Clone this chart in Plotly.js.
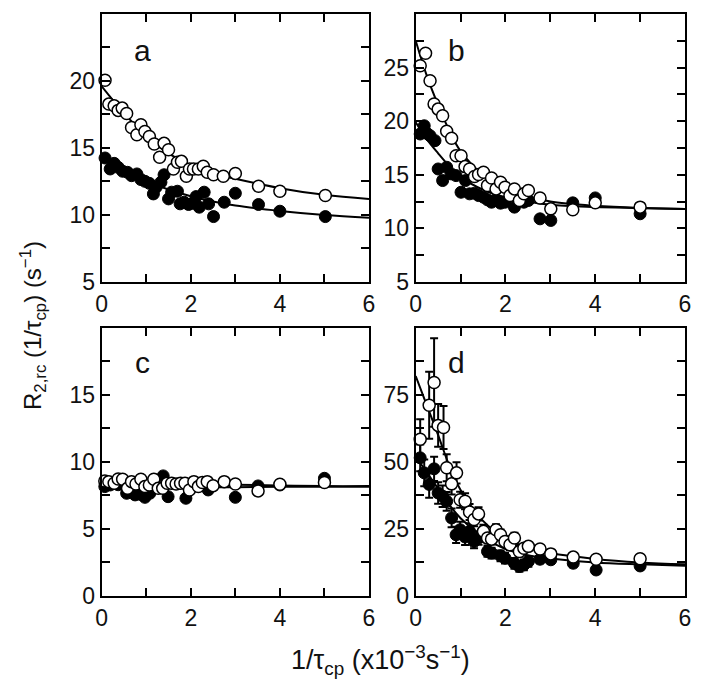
<!DOCTYPE html>
<html>
<head>
<meta charset="utf-8">
<script src="https://cdn.plot.ly/plotly-3.0.1.min.js"></script>
<style>html,body{margin:0;padding:0;background:#fff;}#plot{width:704px;height:697px;}</style>
</head>
<body>
<div id="plot"></div>
<script>
// ---------- Panel a ----------
const aOpenX = [0.075,0.16,0.28,0.37,0.46,0.56,0.67,0.79,0.88,0.97,1.07,1.18,1.30,1.40,1.50,1.61,1.70,1.79,1.90,1.97,2.06,2.17,2.28,2.37,2.51,2.73,3.0,3.52,4.0,5.02];
const aOpenY = [20.05,18.27,18.14,17.8,17.97,17.57,16.53,15.98,16.73,16.23,15.86,15.29,14.3,15.34,14.87,13.43,13.93,14.0,12.89,13.43,13.43,13.43,13.63,13.18,13.0,12.89,13.1,12.14,11.77,11.45];
const aFillX = [0.075,0.19,0.28,0.37,0.47,0.58,0.67,0.79,0.88,0.97,1.07,1.16,1.22,1.33,1.40,1.50,1.57,1.70,1.76,1.85,1.95,2.04,2.12,2.19,2.30,2.40,2.51,2.75,3.0,3.52,4.0,5.02];
const aFillY = [14.25,13.43,13.85,13.55,13.26,13.18,12.93,13.06,12.64,12.51,12.36,11.57,12.07,12.44,13.0,11.2,11.7,11.77,10.83,10.95,10.78,10.88,11.37,10.58,11.7,10.83,9.88,10.95,11.62,10.78,10.28,9.88];
const aFitX = [0,0.5,1,1.5,2,2.5,3,4,5,6];
const aFitOpenY = [19.6,17.6,15.9,14.6,13.7,13.1,12.7,12.0,11.5,11.2];
const aFitFillY = [14.3,13.3,12.5,11.9,11.4,11.0,10.7,10.3,10.0,9.8];

// ---------- Panel b ----------
const bOpenX = [0.10,0.22,0.32,0.41,0.50,0.60,0.69,0.80,0.90,1.01,1.10,1.20,1.31,1.40,1.51,1.60,1.69,1.79,1.89,1.99,2.10,2.20,2.31,2.41,2.51,2.77,3.01,3.50,4.0,5.0];
const bOpenY = [25.16,26.33,23.76,21.59,21.12,20.5,19.05,18.4,16.78,16.78,15.76,15.54,14.83,15.02,15.23,14.0,14.7,13.68,14.3,13.84,13.06,13.68,12.6,13.22,13.53,12.84,11.82,11.73,12.38,11.98];
const bFillX = [0.10,0.19,0.25,0.32,0.43,0.50,0.60,0.69,0.79,0.90,1.01,1.11,1.20,1.31,1.40,1.51,1.60,1.69,1.79,1.89,1.99,2.20,2.41,2.51,2.77,3.01,3.50,4.0,5.0];
const bFillY = [18.8,19.57,18.86,18.64,18.18,15.54,14.46,15.7,15.08,14.92,13.37,14.46,13.22,13.28,13.06,12.91,12.66,12.44,12.66,12.35,12.44,11.98,12.44,12.6,10.89,10.74,12.38,12.84,11.36];
const bFitX = [0,0.25,0.5,0.75,1,1.5,2,2.5,3,4,5,6];
const bFitOpenY = [27.5,24.2,21.5,19.1,17.2,15.0,13.8,13.0,12.5,12.1,11.9,11.8];
const bFitFillY = [19.9,18.3,17.0,15.8,14.8,13.6,12.9,12.5,12.2,12.0,11.9,11.8];

// ---------- Panel c ----------
const cOpenX = [0.07,0.16,0.28,0.37,0.47,0.58,0.67,0.77,0.88,0.97,1.07,1.17,1.27,1.37,1.47,1.57,1.67,1.77,1.87,1.97,2.07,2.17,2.26,2.37,2.50,2.75,3.0,3.51,4.0,5.0];
const cOpenY = [8.58,8.53,8.41,8.73,8.71,8.03,8.53,8.36,8.71,8.16,8.28,8.71,8.03,8.03,8.41,8.41,8.36,8.41,8.41,7.91,8.53,8.16,8.46,8.53,8.23,8.53,8.36,7.84,8.33,8.46];
const cFillX = [0.07,0.19,0.37,0.56,0.67,0.75,0.86,0.97,1.08,1.38,1.49,1.89,2.39,3.0,3.51,4.0,5.0];
const cFillY = [8.16,8.28,8.3,7.66,7.79,7.54,7.59,7.36,7.66,8.96,7.41,7.29,7.91,7.36,8.21,8.28,8.78];
const cFitX = [0,1,2,3,4,5,6];
const cFitOpenY = [8.6,8.5,8.4,8.3,8.25,8.2,8.2];
const cFitFillY = [8.0,8.05,8.1,8.12,8.15,8.15,8.15];

// ---------- Panel d ----------
const dOpenX = [0.10,0.30,0.41,0.50,0.62,0.69,0.80,0.91,0.99,1.10,1.20,1.30,1.40,1.51,1.60,1.69,1.79,1.89,1.99,2.10,2.20,2.31,2.41,2.51,2.77,3.01,3.51,4.02,5.0];
const dOpenY = [58.4,71.1,79.6,63.6,62.8,47.8,41.8,45.9,35.9,35.3,31.3,28.5,30.6,24.1,21.6,21.2,24.7,22.8,20.3,19.1,21.6,16.6,17.8,18.5,17.5,15.7,14.5,13.7,13.9];
const dOpenErr = [7.5,12.5,16.5,8,8,5,4,4,3,3,3,2.5,2.5,2.5,2,2,2,2,2,2,2,2,1.5,1.5,1.5,1.5,1.5,1.5,1.5];
const dFillX = [0.10,0.19,0.30,0.41,0.50,0.60,0.69,0.80,0.90,0.99,1.10,1.20,1.30,1.40,1.60,1.69,1.89,1.99,2.20,2.31,2.41,2.51,2.77,3.01,3.51,4.02,5.0];
const dFillY = [51.5,45.9,41.6,47.4,38.4,37.2,35.3,29.1,22.8,24.7,22.0,24.1,20.3,21.6,16.6,16.0,15.0,14.1,12.2,11.0,11.6,12.9,13.7,13.5,12.2,9.7,11.2];
const dFillErr = [5,5,5,4.5,4,4,3.5,3.5,3,3,3,3,2.5,2.5,2,2,2,2,2,2,2,2,1.5,1.5,1.5,1.5,1.5];
const dFitX = [0,0.25,0.5,0.75,1,1.5,2,2.5,3,4,5,6];
const dFitOpenY = [82,71,60,48.5,39.5,28,21.5,18,16,13.8,12.5,11.8];
const dFitFillY = [52,46,40,34,29,22,17.5,15.2,14,12.5,11.8,11.3];

const panelLabels = ['a','b','c','d'];

const FONT = 'Liberation Sans, Arial, Helvetica, sans-serif';
const openMarker = {symbol:'circle', size:12, color:'#ffffff', line:{color:'#000000', width:1.5}};
const fillMarker = {symbol:'circle', size:12, color:'#000000', line:{color:'#000000', width:1}};
const fitLine = {color:'#000000', width:2, shape:'spline', smoothing:1};

const panels = [
  {fx:aFitX, fo:aFitOpenY, ff:aFitFillY, ox:aOpenX, oy:aOpenY, px:aFillX, py:aFillY},
  {fx:bFitX, fo:bFitOpenY, ff:bFitFillY, ox:bOpenX, oy:bOpenY, px:bFillX, py:bFillY},
  {fx:cFitX, fo:cFitOpenY, ff:cFitFillY, ox:cOpenX, oy:cOpenY, px:cFillX, py:cFillY},
  {fx:dFitX, fo:dFitOpenY, ff:dFitFillY, ox:dOpenX, oy:dOpenY, px:dFillX, py:dFillY, oe:dOpenErr, pe:dFillErr}
];

const traces = [];
panels.forEach((p, i) => {
  const xa = i === 0 ? 'x' : 'x' + (i + 1);
  const ya = i === 0 ? 'y' : 'y' + (i + 1);
  const errStyle = (arr) => arr ? {type:'data', array:arr, visible:true, color:'#000000', thickness:2, width:4} : undefined;
  const fill = {x:p.px, y:p.py, xaxis:xa, yaxis:ya, type:'scatter', mode:'markers', marker:fillMarker, showlegend:false, cliponaxis:false};
  if (p.pe) fill.error_y = errStyle(p.pe);
  traces.push(fill);
  traces.push({x:p.fx, y:p.ff, xaxis:xa, yaxis:ya, type:'scatter', mode:'lines', line:fitLine, showlegend:false});
  traces.push({x:p.fx, y:p.fo, xaxis:xa, yaxis:ya, type:'scatter', mode:'lines', line:fitLine, showlegend:false});
  const open = {x:p.ox, y:p.oy, xaxis:xa, yaxis:ya, type:'scatter', mode:'markers', marker:openMarker, showlegend:false, cliponaxis:false};
  if (p.oe) open.error_y = errStyle(p.oe);
  traces.push(open);
});

const W = 704, H = 697;
const xDomL = [101.7/W, 369/W], xDomR = [415.7/W, 685/W];
const yDomT = [1 - 282/H, 1 - 14/H], yDomB = [1 - 596/H, 1 - 328/H];

function xAxis(dom, anchor) {
  return {domain:dom, anchor:anchor, range:[0,6], dtick:2, tick0:0, ticks:'inside', ticklen:8, tickwidth:2, tickcolor:'#000',
    minor:{dtick:1, tick0:0, ticks:'inside', ticklen:8, tickwidth:2, tickcolor:'#000'},
    showline:true, linewidth:2, linecolor:'#000', mirror:'ticks', showgrid:false, zeroline:false,
    tickfont:{family:FONT, size:23, color:'#111'}, fixedrange:true};
}
function yAxis(dom, anchor, range, dt) {
  return {domain:dom, anchor:anchor, range:range, dtick:dt, tick0:0, ticks:'inside', ticklen:8, tickwidth:2, tickcolor:'#000',
    minor:{dtick:dt/2, tick0:0, ticks:'inside', ticklen:8, tickwidth:2, tickcolor:'#000'},
    showline:true, linewidth:2, linecolor:'#000', mirror:'ticks', showgrid:false, zeroline:false,
    tickfont:{family:FONT, size:23, color:'#111'}, fixedrange:true};
}

const labelPos = [[142,50],[456,50],[142,363],[456,363]];
const annotations = panelLabels.map((t, i) => ({
  text:t, xref:'paper', yref:'paper', x:labelPos[i][0]/W, y:1 - labelPos[i][1]/H,
  xanchor:'center', yanchor:'middle', showarrow:false, font:{family:FONT, size:30, color:'#111'}
}));
annotations.push({text:'R<sub>2,rc</sub> (1/τ<sub>cp</sub>) (s<sup>−1</sup>)', xref:'paper', yref:'paper',
  x:33/W, y:1 - 326/H, xanchor:'center', yanchor:'middle', textangle:-90, showarrow:false,
  font:{family:FONT, size:24, color:'#111'}});
annotations.push({text:'1/τ<sub>cp</sub> (x10<sup>−3</sup>s<sup>−1</sup>)', xref:'paper', yref:'paper',
  x:380/W, y:1 - 660/H, xanchor:'center', yanchor:'middle', showarrow:false,
  font:{family:FONT, size:27, color:'#111'}});

const layout = {
  width:W, height:H, margin:{l:0, r:0, t:0, b:0}, paper_bgcolor:'#fff', plot_bgcolor:'#fff',
  showlegend:false, font:{family:FONT, color:'#111'},
  xaxis:xAxis(xDomL,'y'), yaxis:yAxis(yDomT,'x',[5,24.99],5),
  xaxis2:xAxis(xDomR,'y2'), yaxis2:yAxis(yDomT,'x2',[5,29.99],5),
  xaxis3:xAxis(xDomL,'y3'), yaxis3:yAxis(yDomB,'x3',[0,19.99],5),
  xaxis4:xAxis(xDomR,'y4'), yaxis4:yAxis(yDomB,'x4',[0,99.9],25),
  annotations:annotations
};

Plotly.newPlot('plot', traces, layout, {staticPlot:true, displayModeBar:false});
</script>
</body>
</html>
